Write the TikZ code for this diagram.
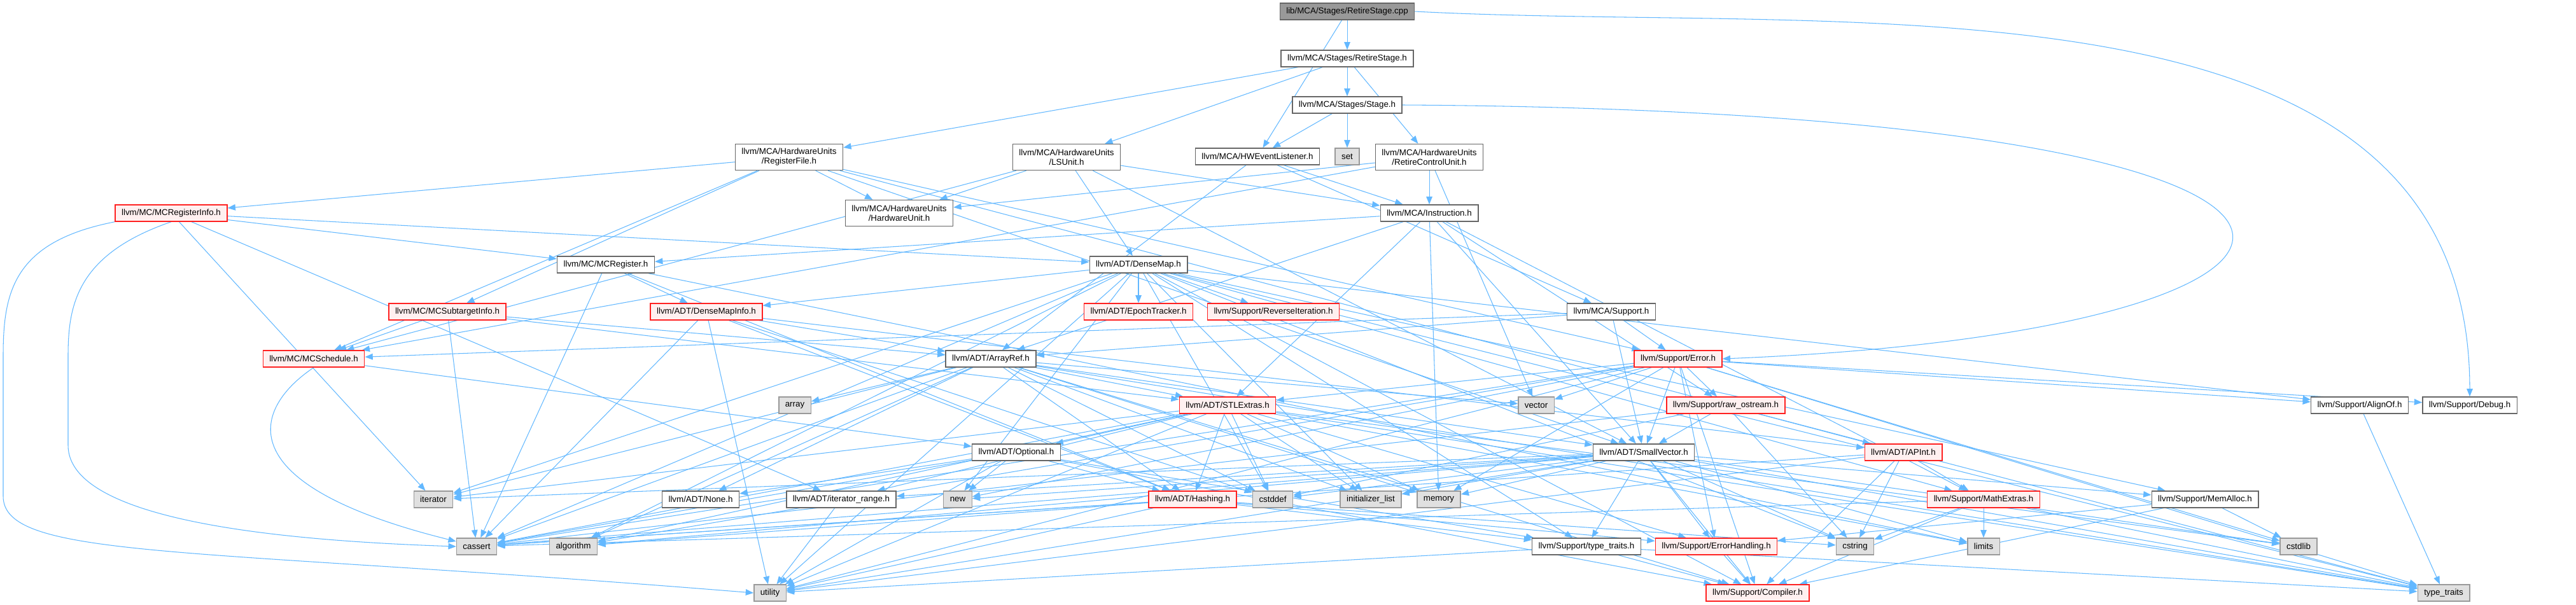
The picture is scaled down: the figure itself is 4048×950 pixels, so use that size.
\documentclass[tikz,border=0pt]{standalone}
\usepackage{fontspec}
\setmainfont{Liberation Sans}
\usetikzlibrary{
  arrows.meta,   % 箭头样式
  backgrounds    % 连线放在背景层
}

\definecolor{edgeblue}{HTML}{63B8FF}
\definecolor{boxgray}{HTML}{666666}
\definecolor{truncred}{HTML}{FF2020}
\definecolor{truncfill}{HTML}{FFF0F0}
\definecolor{sysfill}{HTML}{E0E0E0}
\definecolor{sysborder}{HTML}{999999}
\definecolor{rootfill}{HTML}{999999}

\tikzset{
  hdr/.style={draw=boxgray, fill=white, line width=0.8pt, minimum height=0.52cm,
    inner xsep=0.2cm, inner ysep=0pt, align=center,
    font=\fontsize{7.6}{8.5}\selectfont},
  hdrtwo/.style={hdr, minimum height=0.82cm},
  trunc/.style={hdr, draw=truncred, fill=truncfill},
  sys/.style={hdr, draw=sysborder, fill=sysfill},
  root/.style={hdr, fill=rootfill},
  dep/.style={draw=edgeblue, line width=0.6pt, -{Triangle[length=7pt, width=5.5pt]}}
}

\begin{document}
\begin{tikzpicture}[x=0.02cm, y=-0.02cm]
  % 画布大小（像素坐标，y 向下）
  \useasboundingbox (0,0) rectangle (4048,950);

  % 1. 源文件与 MCA 头文件
  \node[root] (cpp) at (2117,18) {lib/MCA/Stages/RetireStage.cpp};
  \node[hdr] (rsh) at (2117,92) {llvm/MCA/Stages/RetireStage.h};
  \node[hdr] (stage) at (2117,165) {llvm/MCA/Stages/Stage.h};
  \node[hdrtwo] (regfile) at (1240,247) {llvm/MCA/HardwareUnits\\/RegisterFile.h};
  \node[hdrtwo] (lsunit) at (1676,247) {llvm/MCA/HardwareUnits\\/LSUnit.h};
  \node[hdr] (hwevt) at (1976,246) {llvm/MCA/HWEventListener.h};
  \node[sys] (set) at (2117,246) {set};
  \node[hdrtwo] (rcu) at (2246,247) {llvm/MCA/HardwareUnits\\/RetireControlUnit.h};
  \node[hdrtwo] (hwunit) at (1413,335) {llvm/MCA/HardwareUnits\\/HardwareUnit.h};
  \node[hdr] (instr) at (2246,335) {llvm/MCA/Instruction.h};
  \node[hdr] (mcasupport) at (2532,490) {llvm/MCA/Support.h};

  % 2. MC 头文件
  \node[trunc] (mcreginfo) at (269,335) {llvm/MC/MCRegisterInfo.h};
  \node[hdr] (mcreg) at (952,416) {llvm/MC/MCRegister.h};
  \node[trunc] (mcsti) at (703,490) {llvm/MC/MCSubtargetInfo.h};
  \node[trunc] (mcsched) at (493,564) {llvm/MC/MCSchedule.h};

  % 3. ADT 头文件
  \node[hdr] (densemap) at (1789,416) {llvm/ADT/DenseMap.h};
  \node[trunc] (dmi) at (1110,490) {llvm/ADT/DenseMapInfo.h};
  \node[trunc] (epoch) at (1789,490) {llvm/ADT/EpochTracker.h};
  \node[hdr] (arrayref) at (1557,564) {llvm/ADT/ArrayRef.h};
  \node[trunc] (stlextras) at (1929,637) {llvm/ADT/STLExtras.h};
  \node[hdr] (optional) at (1597,711) {llvm/ADT/Optional.h};
  \node[hdr] (smallvec) at (2583,711) {llvm/ADT/SmallVector.h};
  \node[trunc] (apint) at (2991,711) {llvm/ADT/APInt.h};
  \node[hdr] (none) at (1101,785) {llvm/ADT/None.h};
  \node[hdr] (itrange) at (1322,785) {llvm/ADT/iterator\_range.h};
  \node[trunc] (hashing) at (1874,785) {llvm/ADT/Hashing.h};

  % 4. Support 头文件
  \node[trunc] (reviter) at (2001,490) {llvm/Support/ReverseIteration.h};
  \node[trunc] (error) at (2637,564) {llvm/Support/Error.h};
  \node[trunc] (rawos) at (2712,637) {llvm/Support/raw\_ostream.h};
  \node[hdr] (alignof) at (3708,637) {llvm/Support/AlignOf.h};
  \node[hdr] (debug) at (3881,637) {llvm/Support/Debug.h};
  \node[trunc] (mathextras) at (3117,785) {llvm/Support/MathExtras.h};
  \node[hdr] (memalloc) at (3465,785) {llvm/Support/MemAlloc.h};
  \node[hdr] (typetraitsh) at (2493,859) {llvm/Support/type\_traits.h};
  \node[trunc] (errhandling) at (2697,859) {llvm/Support/ErrorHandling.h};
  \node[trunc] (compiler) at (2762,932) {llvm/Support/Compiler.h};

  % 5. 标准库头文件
  \node[sys] (array) at (1249,637) {array};
  \node[sys] (vector) at (2414,637) {vector};
  \node[sys] (iterator) at (681,785) {iterator};
  \node[sys] (new) at (1505,785) {new};
  \node[sys] (cstddef) at (2000,785) {cstddef};
  \node[sys] (initlist) at (2154,785) {initializer\_list};
  \node[sys] (memory) at (2261,785) {memory};
  \node[sys] (cassert) at (749,859) {cassert};
  \node[sys] (algorithm) at (901,859) {algorithm};
  \node[sys] (cstring) at (2915,859) {cstring};
  \node[sys] (limits) at (3117,859) {limits};
  \node[sys] (cstdlib) at (3612,859) {cstdlib};
  \node[sys] (utility) at (1210,932) {utility};
  \node[sys] (typetraits) at (3840,932) {type\_traits};

  % 6. 依赖连线（背景层）
  \begin{scope}[on background layer]
    \foreach \dst in {rsh,hwevt} \draw[dep] (cpp) -- (\dst);
    \draw[dep] (cpp.east) to[out=-3, in=90] (debug.north);
    \foreach \dst in {regfile,lsunit,rcu,stage} \draw[dep] (rsh) -- (\dst);
    \foreach \dst in {hwevt,set} \draw[dep] (stage) -- (\dst);
    \draw[dep] (stage.east) .. controls (3900,175) and (3800,520) .. (error.east);
    \foreach \dst in {apint,smallvec,mcreginfo,mcsched,mcsti,hwunit,error}
      \draw[dep] (regfile) -- (\dst);
    \foreach \dst in {densemap,smallvec,mcsched,hwunit,instr}
      \draw[dep] (lsunit) -- (\dst);
    \foreach \dst in {arrayref,instr,mcasupport} \draw[dep] (hwevt) -- (\dst);
    \foreach \dst in {mcsched,hwunit,instr,vector} \draw[dep] (rcu) -- (\dst);
    \foreach \dst in {arrayref,stlextras,smallvec,mcreg,mathextras,rawos,memory}
      \draw[dep] (instr) -- (\dst);
    \foreach \dst in {densemap,iterator,itrange,mcreg}
      \draw[dep] (mcreginfo) -- (\dst);
    % 左侧绕行的两条长连线
    \draw[dep] (mcreginfo.south west) .. controls (20,380) and (5,460) .. (5,560)
      -- (5,780) .. controls (5,880) and (300,860) .. (utility.west);
    \draw[dep] (mcreginfo.south) .. controls (120,400) and (107,480) .. (107,560)
      -- (107,700) .. controls (107,820) and (450,850) .. (cassert.west);
    \foreach \dst in {dmi,hashing,cassert,limits} \draw[dep] (mcreg) -- (\dst);
    \foreach \dst in {dmi,epoch,alignof,compiler,mathextras,memalloc,reviter,
        typetraitsh,algorithm,cassert,cstddef,cstring,initlist,iterator,new,
        typetraits,utility}
      \draw[dep] (densemap) -- (\dst);
    \foreach \dst in {arrayref,stlextras,mcsched,cassert} \draw[dep] (mcsti) -- (\dst);
    \foreach \dst in {apint,arrayref,hashing,cassert,cstddef,utility}
      \draw[dep] (dmi) -- (\dst);
    \foreach \dst in {arrayref,smallvec,mcsched,error} \draw[dep] (mcasupport) -- (\dst);
    \draw[dep] (mcsched) -- (optional);
    \draw[dep] (mcsched.south) .. controls (400,640) and (350,760) .. (cassert);
    \foreach \dst in {hashing,none,smallvec,stlextras,compiler,algorithm,array,
        cassert,cstddef,initlist,iterator,memory,typetraits,vector}
      \draw[dep] (arrayref) -- (\dst);
    \foreach \dst in {stlextras,smallvec,alignof,compiler,debug,errhandling,rawos,
        algorithm,cassert,cstdlib,memory,new,typetraits,utility,vector}
      \draw[dep] (error) -- (\dst);
    \foreach \dst in {hashing,optional,itrange,errhandling,algorithm,cassert,
        cstddef,cstdlib,initlist,iterator,limits,memory,typetraits,utility}
      \draw[dep] (stlextras) -- (\dst);
    \foreach \dst in {smallvec,cassert,cstddef,cstring,typetraits}
      \draw[dep] (rawos) -- (\dst);
    \draw[dep] (alignof) -- (typetraits);
    \foreach \dst in {hashing,none,compiler,typetraitsh,cassert,new,utility}
      \draw[dep] (optional) -- (\dst);
    \foreach \dst in {compiler,errhandling,memalloc,typetraitsh,itrange,algorithm,
        cassert,cstddef,cstdlib,cstring,initlist,iterator,limits,memory,new,
        typetraits,utility}
      \draw[dep] (smallvec) -- (\dst);
    \foreach \dst in {compiler,mathextras,cassert,cstring,utility}
      \draw[dep] (apint) -- (\dst);
    \draw[dep] (itrange) -- (utility);
    \foreach \dst in {errhandling,typetraitsh,algorithm,cassert,cstring,utility}
      \draw[dep] (hashing) -- (\dst);
    \foreach \dst in {compiler,typetraits,utility} \draw[dep] (typetraitsh) -- (\dst);
    \draw[dep] (errhandling) -- (compiler);
    \foreach \dst in {compiler,cassert,cstring,limits,typetraits}
      \draw[dep] (mathextras) -- (\dst);
    \foreach \dst in {compiler,errhandling,cstdlib} \draw[dep] (memalloc) -- (\dst);
  \end{scope}
\end{tikzpicture}
\end{document}
